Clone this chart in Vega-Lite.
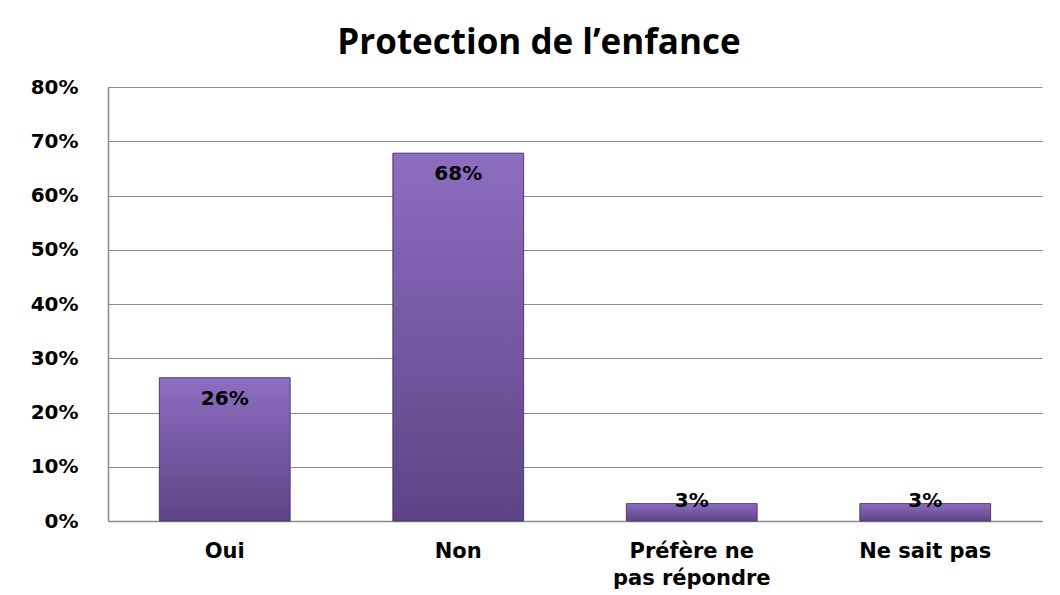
{
  "$schema": "https://vega.github.io/schema/vega-lite/v6.json",
  "autosize": "none",
  "width": 934,
  "height": 434,
  "padding": {"left": 108, "top": 87, "right": 18, "bottom": 74},
  "background": "white",
  "title": {
    "text": "Protection de l’enfance",
    "font": "Open Sans",
    "fontSize": 35,
    "fontWeight": "bold",
    "color": "#000000",
    "anchor": "middle",
    "dx": -36,
    "offset": 16
  },
  "data": {
    "values": [
      {"reponse": "Oui", "part": 0.264, "etiquette": "26%"},
      {"reponse": "Non", "part": 0.678, "etiquette": "68%"},
      {"reponse": "Préfère ne pas répondre", "part": 0.032, "etiquette": "3%"},
      {"reponse": "Ne sait pas", "part": 0.032, "etiquette": "3%"}
    ]
  },
  "encoding": {
    "x": {
      "field": "reponse",
      "type": "nominal",
      "sort": null,
      "title": null,
      "scale": {"paddingInner": 0.44, "paddingOuter": 0.22},
      "axis": {
        "labelAngle": 0,
        "labelFont": "DejaVu Sans",
        "labelFontWeight": "bold",
        "labelFontSize": 21,
        "labelColor": "#000000",
        "labelPadding": 19,
        "labelLineHeight": 27,
        "labelExpr": "datum.label == 'Préfère ne pas répondre' ? ['Préfère ne', 'pas répondre'] : datum.label",
        "ticks": false,
        "domainColor": "#8c8c8c",
        "domainWidth": 1.5
      }
    },
    "y": {
      "field": "part",
      "type": "quantitative",
      "title": null,
      "scale": {"domain": [0, 0.8], "nice": false},
      "axis": {
        "values": [0, 0.1, 0.2, 0.3, 0.4, 0.5, 0.6, 0.7, 0.8],
        "format": ".0%",
        "labelFont": "DejaVu Sans",
        "labelFontWeight": "bold",
        "labelFontSize": 20,
        "labelColor": "#000000",
        "labelPadding": 30,
        "ticks": false,
        "grid": true,
        "gridColor": "#8c8c8c",
        "gridWidth": 1.2,
        "domainColor": "#8c8c8c",
        "domainWidth": 1.5
      }
    }
  },
  "layer": [
    {
      "mark": {
        "type": "bar",
        "stroke": "#4f3a72",
        "strokeWidth": 1,
        "fill": {
          "gradient": "linear",
          "x1": 0, "y1": 0, "x2": 0, "y2": 1,
          "stops": [
            {"offset": 0, "color": "#8d6dc0"},
            {"offset": 1, "color": "#5d4486"}
          ]
        }
      }
    },
    {
      "transform": [{"filter": "datum.part > 0.1"}],
      "mark": {
        "type": "text",
        "baseline": "middle",
        "dy": 21,
        "font": "DejaVu Sans",
        "fontWeight": "bold",
        "fontSize": 20,
        "color": "#000000"
      },
      "encoding": {"text": {"field": "etiquette"}}
    },
    {
      "transform": [{"filter": "datum.part <= 0.1"}],
      "mark": {
        "type": "text",
        "baseline": "middle",
        "dy": -3,
        "font": "DejaVu Sans",
        "fontWeight": "bold",
        "fontSize": 20,
        "color": "#000000"
      },
      "encoding": {"text": {"field": "etiquette"}}
    }
  ],
  "config": {"view": {"stroke": null}}
}
